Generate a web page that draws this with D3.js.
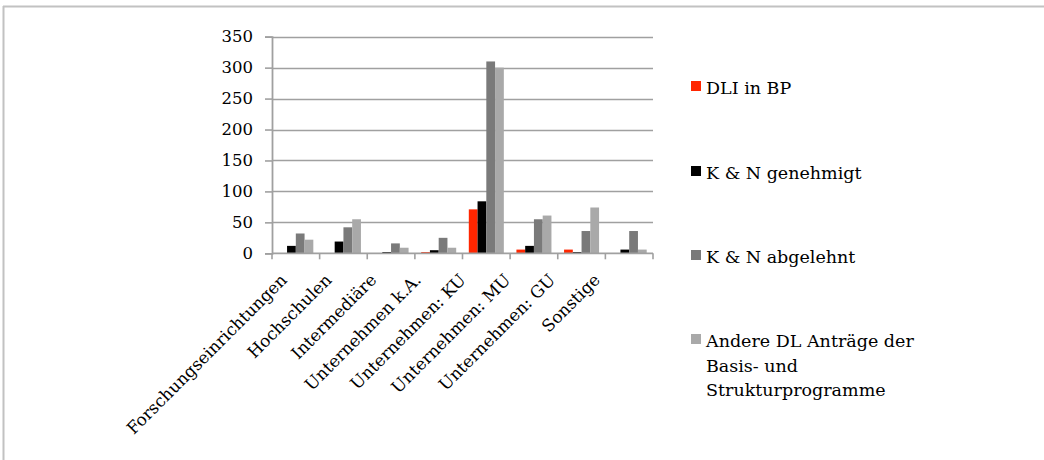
<!DOCTYPE html>
<html>
<head>
<meta charset="utf-8">
<script src="https://cdn.jsdelivr.net/npm/d3@7"></script>
<style>
  body { margin: 0; background: #fff; }
  svg { display: block; }
  text { font-family: "DejaVu Serif", serif; fill: #000; }
</style>
</head>
<body>
<svg id="chart" width="1044" height="460"></svg>
<script>
// Applicant groups on the x axis
const categories = [
  "Forschungseinrichtungen", "Hochschulen", "Intermediäre", "Unternehmen k.A.",
  "Unternehmen: KU", "Unternehmen: MU", "Unternehmen: GU", "Sonstige"
];
// Series names (legend order)
const seriesNames = [
  "DLI in BP",
  "K & N genehmigt",
  "K & N abgelehnt",
  "Andere DL Anträge der Basis- und Strukturprogramme"
];
// Counts per applicant group
const dliInBP     = [0, 0, 0, 2, 71, 6, 6, 0];
const knGenehmigt = [12, 19, 2, 5, 84, 12, 2, 6];
const knAbgelehnt = [32, 42, 16, 25, 310, 55, 36, 36];
const andereDL    = [22, 55, 9, 9, 300, 61, 74, 6];
// Value axis ticks
const yTicks = [0, 50, 100, 150, 200, 250, 300, 350];

const seriesValues = [dliInBP, knGenehmigt, knAbgelehnt, andereDL];
const colors = ["#ff2600", "#000000", "#7a7a7a", "#a9a9a9"];

const svg = d3.select("#chart");
const W = 1044, H = 460;
const plot = { left: 272, right: 653, top: 36.7, bottom: 253.3 };
const gridColor = "#a0a0a0";

// Outer frame: top and left edges only
svg.append("line").attr("x1", 3).attr("x2", W).attr("y1", 6.5).attr("y2", 6.5)
  .attr("stroke", "#c2c2c2").attr("stroke-width", 2);
svg.append("line").attr("x1", 3.5).attr("x2", 3.5).attr("y1", 6).attr("y2", H)
  .attr("stroke", "#c2c2c2").attr("stroke-width", 2);

const x = d3.scaleBand().domain(categories).range([plot.left, plot.right]).padding(0);
const bw = x.bandwidth();
const xInner = d3.scaleBand().domain(d3.range(seriesNames.length))
  .range([6.3, bw - 6.3]).padding(0);
const y = d3.scaleLinear().domain([0, 350]).range([plot.bottom, plot.top]);

// Horizontal gridlines
svg.append("g").selectAll("line").data(yTicks.filter(d => d > 0)).join("line")
  .attr("x1", plot.left).attr("x2", plot.right)
  .attr("y1", d => Math.round(y(d)) + 0.5).attr("y2", d => Math.round(y(d)) + 0.5)
  .attr("stroke", gridColor).attr("stroke-width", 1.6);

// Bars
const groups = svg.append("g").selectAll("g").data(categories).join("g")
  .attr("transform", d => `translate(${x(d)},0)`);
groups.selectAll("rect")
  .data((c, i) => seriesValues.map((vals, s) => ({ s, v: vals[i] })))
  .join("rect")
  .attr("x", d => xInner(d.s))
  .attr("width", xInner.bandwidth())
  .attr("y", d => y(d.v))
  .attr("height", d => y(0) - y(d.v))
  .attr("fill", d => colors[d.s]);

// Y axis
const yAxis = svg.append("g").attr("transform", `translate(${plot.left},0)`)
  .call(d3.axisLeft(y).tickValues(yTicks).tickSize(7).tickPadding(12).tickFormat(d3.format("d")));
yAxis.select(".domain").attr("stroke", gridColor).attr("stroke-width", 1.8);
yAxis.selectAll(".tick line").attr("stroke", gridColor).attr("stroke-width", 1.6);
yAxis.selectAll(".tick text").style("font-size", "16.5px").style("font-family", "'DejaVu Serif', serif").attr("fill", "#000");

// X axis line with tick marks at category boundaries
const xAxisG = svg.append("g");
xAxisG.append("line").attr("x1", plot.left).attr("x2", plot.right)
  .attr("y1", plot.bottom).attr("y2", plot.bottom)
  .attr("stroke", gridColor).attr("stroke-width", 1.8);
const boundaries = categories.map(c => x(c)).concat([x(categories[categories.length - 1]) + bw]);
xAxisG.selectAll("line.tick").data(boundaries).join("line").attr("class", "tick")
  .attr("x1", d => d).attr("x2", d => d)
  .attr("y1", plot.bottom).attr("y2", plot.bottom + 6)
  .attr("stroke", gridColor).attr("stroke-width", 1.6);

// Rotated category labels; their end points follow a point scale
const labelX = d3.scalePoint().domain(categories).range([plot.left + 16, plot.right - 52]);
svg.append("g").selectAll("text").data(categories).join("text")
  .attr("transform", d => `translate(${labelX(d)},281) rotate(-45)`)
  .attr("text-anchor", "end")
  .style("font-size", "16.8px")
  .text(d => d);

// Legend
const legend = svg.append("g").attr("transform", "translate(691,0)");
const legendRows = [81, 166, 250, 334];
const maxLegendWidth = 225;
seriesNames.forEach((name, i) => {
  const row = legend.append("g").attr("transform", `translate(0,${legendRows[i]})`);
  row.append("rect").attr("width", 10).attr("height", 10).attr("fill", colors[i]);
  const t = row.append("text").attr("x", 15).attr("y", 13).style("font-size", "17.5px");
  // word-wrap the entry text
  const words = name.split(" ");
  let line = [];
  let tspan = t.append("tspan").attr("x", 15).attr("dy", 0);
  words.forEach(w => {
    line.push(w);
    tspan.text(line.join(" "));
    if (tspan.node().getComputedTextLength() > maxLegendWidth && line.length > 1) {
      line.pop();
      tspan.text(line.join(" "));
      line = [w];
      tspan = t.append("tspan").attr("x", 15).attr("dy", 24.7).text(w);
    }
  });
});
</script>
</body>
</html>
